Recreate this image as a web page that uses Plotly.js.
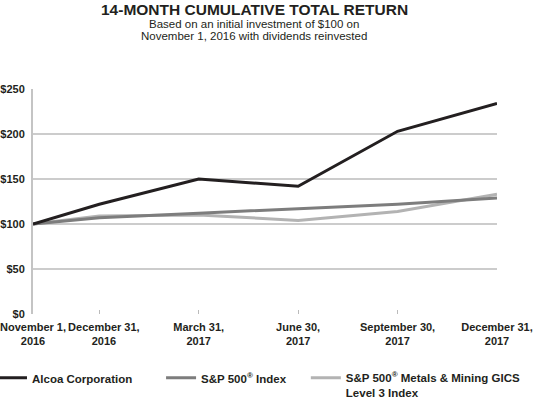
<!DOCTYPE html>
<html>
<head>
<meta charset="utf-8">
<script src="https://cdn.plot.ly/plotly-3.0.1.min.js"></script>
<style>html,body{margin:0;padding:0;background:#fff;}#chart{width:537px;height:399px;}</style>
</head>
<body>
<div id="chart"></div>
<script>
// Months elapsed since November 1, 2016 for each measurement date
const monthsElapsed = [0, 2, 5, 8, 11, 14];
const tickLabels = ["<b>November 1,</b><br><b>2016</b>", "<b>&nbsp;&nbsp;&nbsp;December 31,</b><br><b>&nbsp;&nbsp;&nbsp;2016</b>", "<b>March 31,</b><br><b>2017</b>", "<b>June 30,</b><br><b>2017</b>", "<b>September 30,</b><br><b>2017</b>", "<b>December 31,</b><br><b>2017</b>"];
const alcoa = [100, 122, 150, 142, 203, 234];
const sp500 = [100, 107, 112, 117, 122, 129];
const metals = [100, 109, 110, 104, 114, 133];
const seriesNames = ["<b>Alcoa Corporation</b>", "<b>S&P 500<sup>®</sup> Index</b>", "<b>S&P 500<sup>®</sup> Metals & Mining GICS</b><br><b>Level 3 Index</b>"];
const yTicks = [0, 50, 100, 150, 200, 250];

const colors = ["#231f20", "#7d7d7d", "#b3b3b3"];
const legendIds = ["legend", "legend2", "legend3"];
const series = [alcoa, sp500, metals];
const traces = series.map((s, i) => ({
  x: monthsElapsed, y: s, type: "scatter", mode: "lines", name: seriesNames[i],
  line: {color: colors[i], width: 3}, legend: legendIds[i]
}));
// draw order: metals, sp500, alcoa on top
const data = [traces[2], traces[1], traces[0]];

const legendBase = {orientation: "h", xanchor: "left", y: -0.221, yanchor: "top",
  font: {size: 11.5, color: "#231f20"}, bgcolor: "rgba(0,0,0,0)", valign: "top"};

const layout = {
  width: 537, height: 399,
  margin: {l: 33, r: 40, t: 89, b: 85, autoexpand: false},
  paper_bgcolor: "#fff", plot_bgcolor: "#fff",
  font: {family: "Liberation Sans, Arial, sans-serif", color: "#231f20", size: 11},
  showlegend: true,
  legend: Object.assign({}, legendBase, {x: -0.0884}),
  legend2: Object.assign({}, legendBase, {x: 0.276}),
  legend3: Object.assign({}, legendBase, {x: 0.588}),
  xaxis: {range: [0, 14], tickvals: monthsElapsed, ticktext: tickLabels, tickangle: 0,
    showgrid: false, zeroline: false, showline: false, automargin: false,
    ticklabeloverflow: "allow", ticklabelstandoff: 5,
    ticks: "inside", ticklen: 4, tickcolor: "#bbbbbb", tickwidth: 1,
    tickfont: {size: 11, color: "#231f20"}, fixedrange: true},
  yaxis: {range: [0, 250], tickvals: yTicks, ticktext: yTicks.map(v => "<b>$" + v + "</b>"),
    showgrid: true, gridcolor: "#cccccc", gridwidth: 2, zeroline: false, automargin: false,
    showline: true, linecolor: "#c4c4c4", linewidth: 2, ticks: "", ticklabelstandoff: 4,
    ticklabeloverflow: "allow",
    tickfont: {size: 11, color: "#231f20"}, fixedrange: true},
  annotations: [
    {text: "<b>14-MONTH CUMULATIVE TOTAL RETURN</b>", xref: "paper", yref: "paper", x: 0.477, y: 1, yshift: 80, xanchor: "center", yanchor: "middle", showarrow: false, font: {size: 15.5, color: "#231f20"}},
    {text: "Based on an initial investment of $100 on", xref: "paper", yref: "paper", x: 0.476, y: 1, yshift: 65.5, xanchor: "center", yanchor: "middle", showarrow: false, font: {size: 11.5, color: "#231f20"}},
    {text: "November 1, 2016 with dividends reinvested", xref: "paper", yref: "paper", x: 0.476, y: 1, yshift: 53, xanchor: "center", yanchor: "middle", showarrow: false, font: {size: 11.5, color: "#231f20"}}
  ]
};
Plotly.newPlot("chart", data, layout, {displayModeBar: false, staticPlot: true});
</script>
</body>
</html>
